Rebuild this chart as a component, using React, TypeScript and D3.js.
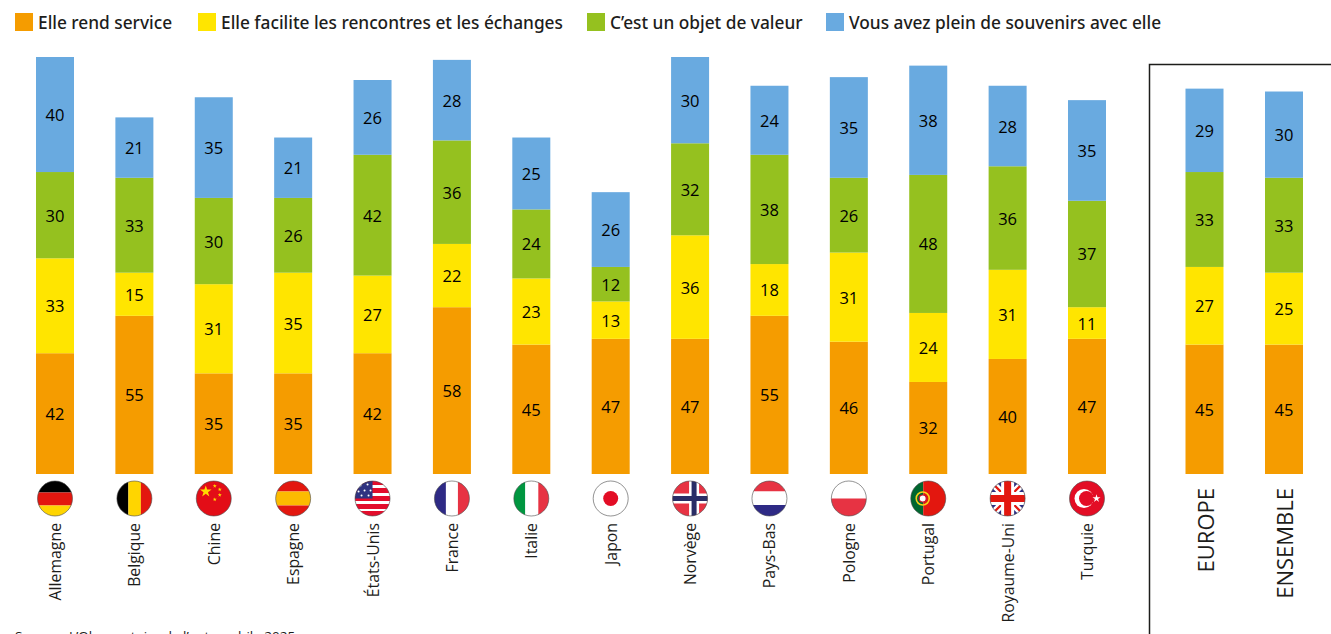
import React from "react";
import * as d3 from "d3";

const countries = ["Allemagne", "Belgique", "Chine", "Espagne", "États-Unis", "France", "Italie", "Japon", "Norvège", "Pays-Bas", "Pologne", "Portugal", "Royaume-Uni", "Turquie"];
const summaries = ["EUROPE", "ENSEMBLE"];

const serviceCountries = [42, 55, 35, 35, 42, 58, 45, 47, 47, 55, 46, 32, 40, 47];
const rencontresCountries = [33, 15, 31, 35, 27, 22, 23, 13, 36, 18, 31, 24, 31, 11];
const valeurCountries = [30, 33, 30, 26, 42, 36, 24, 12, 32, 38, 26, 48, 36, 37];
const souvenirsCountries = [40, 21, 35, 21, 26, 28, 25, 26, 30, 24, 35, 38, 28, 35];

const serviceSummary = [45, 45];
const rencontresSummary = [27, 25];
const valeurSummary = [33, 33];
const souvenirsSummary = [29, 30];

const seriesNames = ["Elle rend service", "Elle facilite les rencontres et les échanges", "C’est un objet de valeur", "Vous avez plein de souvenirs avec elle"];
const seriesColors = ["#f59c00", "#ffe500", "#95c11f", "#69aae0"];
const legendX = [15, 198, 587, 826];

const sourceText = "Source : L’Observatoire de l’automobile 2025";

const WIDTH = 1331;
const HEIGHT = 634;
const BAR_W = 38;
const FLAG_R = 17.5;
const labelFont = "'Open Sans', sans-serif";
const legendFont = "'Noto Sans', sans-serif";

type Row = { name: string; service: number; rencontres: number; valeur: number; souvenirs: number };
const keys = ["service", "rencontres", "valeur", "souvenirs"];

const toRows = (names: string[], a: number[], b: number[], c: number[], d: number[]): Row[] =>
  names.map((name, i) => ({ name, service: a[i], rencontres: b[i], valeur: c[i], souvenirs: d[i] }));

const rows = [
  ...toRows(countries, serviceCountries, rencontresCountries, valeurCountries, souvenirsCountries),
  ...toRows(summaries, serviceSummary, rencontresSummary, valeurSummary, souvenirsSummary),
];

const y = d3.scaleLinear().domain([0, 145]).range([474, 57]);
const xCountry = d3.scalePoint<string>().domain(countries).range([55, 1087]);
const xSummary = d3.scalePoint<string>().domain(summaries).range([1204.5, 1284]);
const xOf = (name: string) => (xCountry(name) ?? xSummary(name)) as number;

const stack = d3.stack<Row>().keys(keys);
const stacked = stack(rows);

// flags are drawn in a 36x36 box centred on 0,0 and clipped to the circle
const H = ({ c, y0, y1 }: { c: string; y0: number; y1: number }) => <rect x={-18} y={y0} width={36} height={y1 - y0} fill={c} />;
const V = ({ c, x0, x1 }: { c: string; x0: number; x1: number }) => <rect x={x0} y={-18} width={x1 - x0} height={36} fill={c} />;

const starPath = d3.symbol().type(d3.symbolStar);

const flags: Record<string, React.ReactNode> = {
  Allemagne: (<><H c="#000000" y0={-18} y1={-6} /><H c="#e3170f" y0={-6} y1={7} /><H c="#ffd500" y0={7} y1={18} /></>),
  Belgique: (<><V c="#000000" x0={-18} x1={-6} /><V c="#ffd500" x0={-6} x1={6.5} /><V c="#e3170f" x0={6.5} x1={18} /></>),
  Chine: (
    <>
      <H c="#e30d17" y0={-18} y1={18} />
      <path d={starPath.size(42)() as string} transform="translate(-8,-7)" fill="#ffdd00" />
      {[[1, -12.5], [6, -9], [6, -3.5], [1, 1]].map(([sx, sy]) => (
        <path key={sx + "," + sy} d={starPath.size(5)() as string} transform={`translate(${sx},${sy})`} fill="#ffdd00" />
      ))}
    </>
  ),
  Espagne: (<><H c="#e3170f" y0={-18} y1={-7} /><H c="#fcbb00" y0={-7} y1={7} /><H c="#e3170f" y0={7} y1={18} /></>),
  "États-Unis": (
    <>
      <H c="#ffffff" y0={-18} y1={18} />
      {[-16, -8, 0, 8, 15].map((sy) => (<H key={sy} c="#e30d2c" y0={sy - 2.5} y1={sy + 2.5} />))}
      <rect x={-18} y={-18} width={18} height={18} fill="#2f3381" />
      {[[-12, -13], [-5, -14], [-14, -7], [-8, -8], [-2, -8], [-11, -3], [-4, -3]].map(([sx, sy]) => (
        <circle key={sx + "," + sy} cx={sx} cy={sy} r={1} fill="#ffffff" />
      ))}
    </>
  ),
  France: (<><V c="#2e2a85" x0={-18} x1={-6} /><V c="#ffffff" x0={-6} x1={6} /><V c="#e73343" x0={6} x1={18} /></>),
  Italie: (<><V c="#009640" x0={-18} x1={-6} /><V c="#ffffff" x0={-6} x1={7} /><V c="#e73343" x0={7} x1={18} /></>),
  Japon: (<><H c="#ffffff" y0={-18} y1={18} /><circle r={7.5} fill="#e30d25" /></>),
  Norvège: (
    <>
      <H c="#e73343" y0={-18} y1={18} />
      <H c="#ffffff" y0={-5} y1={5} />
      <V c="#ffffff" x0={-1} x1={9} />
      <H c="#2a2d66" y0={-2.5} y1={2.5} />
      <V c="#2a2d66" x0={1.5} x1={6.5} />
    </>
  ),
  "Pays-Bas": (<><H c="#e73343" y0={-18} y1={-7} /><H c="#ffffff" y0={-7} y1={6.5} /><H c="#2e2a85" y0={6.5} y1={18} /></>),
  Pologne: (<><H c="#ffffff" y0={-18} y1={0} /><H c="#e73343" y0={0} y1={18} /></>),
  Portugal: (
    <>
      <V c="#00662f" x0={-18} x1={-5} />
      <V c="#e3170f" x0={-5} x1={18} />
      <circle cx={-5.5} r={6.5} fill="none" stroke="#f7d117" strokeWidth={1.6} />
      <circle cx={-5.5} r={3.5} fill="#ffffff" stroke="#c8102e" strokeWidth={1.2} />
    </>
  ),
  "Royaume-Uni": (
    <>
      <H c="#2e2f85" y0={-18} y1={18} />
      <path d="M-18,-18L18,18M18,-18L-18,18" stroke="#ffffff" strokeWidth={7} />
      <path d="M-18,-18L18,18M18,-18L-18,18" stroke="#e3170f" strokeWidth={2.2} />
      <H c="#ffffff" y0={-6.5} y1={6.5} />
      <V c="#ffffff" x0={-6.5} x1={6.5} />
      <H c="#e3170f" y0={-3.5} y1={3.5} />
      <V c="#e3170f" x0={-3.5} x1={3.5} />
    </>
  ),
  Turquie: (
    <>
      <H c="#e30d25" y0={-18} y1={18} />
      <circle cx={-3} r={9.5} fill="#ffffff" />
      <circle cx={-0.5} r={7.5} fill="#e30d25" />
      <path d={starPath.size(20)() as string} transform="translate(9.5,0)" fill="#ffffff" />
    </>
  ),
};

const App = () => (
  <svg
    width={WIDTH}
    height={HEIGHT}
    viewBox={`0 0 ${WIDTH} ${HEIGHT}`}
    style={{ position: "absolute", left: 0, top: 0, background: "#ffffff" }}
  >
    <defs>
      <clipPath id="flagClip">
        <circle r={FLAG_R} />
      </clipPath>
    </defs>

    {/* legend */}
    <g>
      {seriesNames.map((name, i) => (
        <g key={name} transform={`translate(${legendX[i]},13)`}>
          <rect width={18} height={18} fill={seriesColors[i]} />
          <text x={23} y={15.5} fontFamily={legendFont} fontSize={17.3} fontWeight={500} fill="#1d1d1b">
            {name}
          </text>
        </g>
      ))}
    </g>

    {/* bars */}
    {stacked.map((layer, i) => (
      <g key={layer.key} fill={seriesColors[i]}>
        {layer.map((d) => (
          <rect
            key={d.data.name}
            x={xOf(d.data.name) - BAR_W / 2}
            y={y(d[1])}
            width={BAR_W}
            height={y(d[0]) - y(d[1])}
          />
        ))}
      </g>
    ))}

    {/* values */}
    {stacked.map((layer) => (
      <g key={layer.key} fontFamily={labelFont} fontSize={16.5} fontWeight={500} fill="#000000" textAnchor="middle">
        {layer.map((d) => (
          <text key={d.data.name} x={xOf(d.data.name)} y={(y(d[0]) + y(d[1])) / 2 + 6.5}>
            {d[1] - d[0]}
          </text>
        ))}
      </g>
    ))}

    {/* flags */}
    {countries.map((name) => (
      <g key={name} transform={`translate(${xOf(name)},498.5)`}>
        <g clipPath="url(#flagClip)">{flags[name]}</g>
        <circle r={FLAG_R} fill="none" stroke="#4a4a49" strokeWidth={0.6} />
      </g>
    ))}

    {/* axis labels */}
    {countries.map((name) => (
      <text
        key={name}
        transform={`translate(${xOf(name) + 6},523) rotate(-90)`}
        textAnchor="end"
        fontFamily={labelFont}
        fontSize={15.8}
        fontWeight={500}
        fill="#1d1d1b"
      >
        {name}
      </text>
    ))}
    {summaries.map((name) => (
      <text
        key={name}
        transform={`translate(${xOf(name) + 9},488) rotate(-90)`}
        textAnchor="end"
        fontFamily={labelFont}
        fontSize={22}
        fontWeight={500}
        fill="#1d1d1b"
      >
        {name}
      </text>
    ))}

    {/* summary frame */}
    <path d={`M1149.5,${HEIGHT}V64.5H${WIDTH}`} fill="none" stroke="#1d1d1b" strokeWidth={1.5} />

    <text x={15} y={641} fontFamily={labelFont} fontSize={13.5} fill="#1d1d1b">
      {sourceText}
    </text>
  </svg>
);

export default App;
